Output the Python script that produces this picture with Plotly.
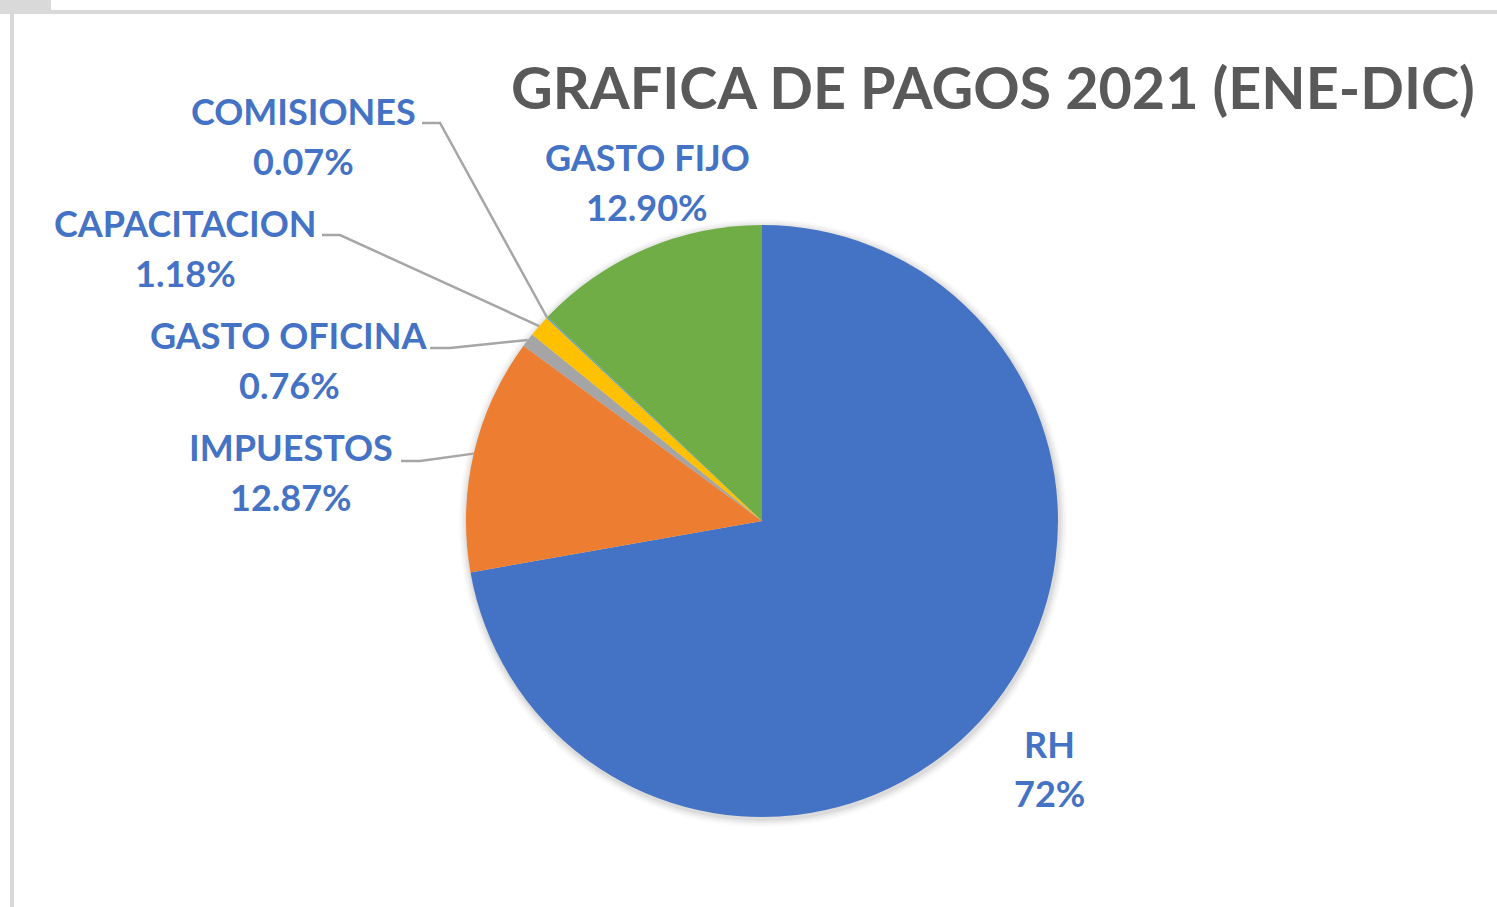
import math
import plotly.graph_objects as go

# ---- data ----
categories = ["RH", "IMPUESTOS", "GASTO OFICINA", "CAPACITACION", "COMISIONES", "GASTO FIJO"]
values = [72.22, 12.87, 0.76, 1.18, 0.07, 12.90]
pct_labels = ["72%", "12.87%", "0.76%", "1.18%", "0.07%", "12.90%"]
colors = ["#4472C4", "#ED7D31", "#A5A5A5", "#FFC000", "#5B9BD5", "#70AD47"]
title_text = "GRAFICA DE PAGOS 2021 (ENE-DIC)"

W, H = 1497, 907
CX, CY, R = 762, 521, 296  # pie centre / radius in pixels (layout)

def px(x):
    return x / W

def py(y):
    return 1 - y / H

fig = go.Figure()
fig.add_trace(go.Pie(
    labels=categories,
    values=values,
    sort=False,
    direction="clockwise",
    rotation=0,
    marker=dict(colors=colors, line=dict(width=0)),
    textinfo="none",
    hoverinfo="label+percent",
    showlegend=False,
    domain=dict(x=[px(CX - R), px(CX + R)], y=[py(CY + R), py(CY - R)]),
))

# label layout: (text centre x, name line y, pct line y, leader start, elbow) in pixels
label_layout = {
    "RH": dict(x=1049, y1=744, y2=793, leader=None),
    "IMPUESTOS": dict(x=291, y1=447, y2=497, leader=((401, 461), (420, 461))),
    "GASTO OFICINA": dict(x=289, y1=335, y2=385, leader=((430, 348), (450, 348))),
    "CAPACITACION": dict(x=185, y1=223, y2=273, leader=((322, 235), (340, 235))),
    "COMISIONES": dict(x=303, y1=111, y2=161, leader=((422, 123), (440, 123))),
    "GASTO FIJO": dict(x=647, y1=157, y2=207, leader=None),
}

label_font = dict(family="Lato", size=36, color="#4472C4")
annotations = []
shapes = []

total = sum(values)
cum = 0.0
for cat, val, pct in zip(categories, values, pct_labels):
    mid = (cum + val / 2) / total * 2 * math.pi
    cum += val
    ex = CX + R * math.sin(mid)
    ey = CY - R * math.cos(mid)
    lay = label_layout[cat]
    annotations.append(dict(x=px(lay["x"]), y=py(lay["y1"]), xref="paper", yref="paper",
                            text="<b>%s</b>" % cat, showarrow=False, font=label_font,
                            xanchor="center", yanchor="middle"))
    annotations.append(dict(x=px(lay["x"]), y=py(lay["y2"]), xref="paper", yref="paper",
                            text="<b>%s</b>" % pct, showarrow=False, font=label_font,
                            xanchor="center", yanchor="middle"))
    if lay["leader"]:
        (sx, sy), (kx, ky) = lay["leader"]
        path = "M %f %f L %f %f L %f %f" % (px(sx), py(sy), px(kx), py(ky), px(ex), py(ey))
        shapes.append(dict(type="path", path=path, xref="paper", yref="paper",
                           line=dict(color="#A6A6A6", width=2.5), layer="above"))

annotations.append(dict(x=px(993), y=py(86), xref="paper", yref="paper",
                        text="<b>%s</b>" % title_text, showarrow=False,
                        font=dict(family="Lato", size=57.5, color="#595959"),
                        xanchor="center", yanchor="middle"))

# soft shadow behind pie
for i, a in enumerate([0.05, 0.04, 0.03, 0.02]):
    d = 2 + i * 2
    shapes.append(dict(type="circle", xref="paper", yref="paper",
                       x0=px(CX - R - d + 1), x1=px(CX + R + d + 1),
                       y0=py(CY + R + d + 2), y1=py(CY - R - d + 2),
                       fillcolor="rgba(0,0,0,%s)" % a, line=dict(width=0), layer="below"))

# window frame decorations
frame = "#D9D9D9"
shapes.append(dict(type="rect", xref="paper", yref="paper", x0=0, x1=px(51), y0=py(14), y1=1,
                   fillcolor=frame, line=dict(width=0), layer="above"))
shapes.append(dict(type="rect", xref="paper", yref="paper", x0=px(10), x1=1, y0=py(14), y1=py(10),
                   fillcolor=frame, line=dict(width=0), layer="above"))
shapes.append(dict(type="rect", xref="paper", yref="paper", x0=px(10), x1=px(14), y0=0, y1=py(10),
                   fillcolor=frame, line=dict(width=0), layer="above"))

fig.update_layout(
    width=W, height=H,
    margin=dict(l=0, r=0, t=0, b=0),
    paper_bgcolor="white",
    plot_bgcolor="white",
    annotations=annotations,
    shapes=shapes,
)

fig.write_html("out.html", config={"displayModeBar": False},
               post_script="document.body.style.margin='0';document.body.style.overflow='hidden';")
